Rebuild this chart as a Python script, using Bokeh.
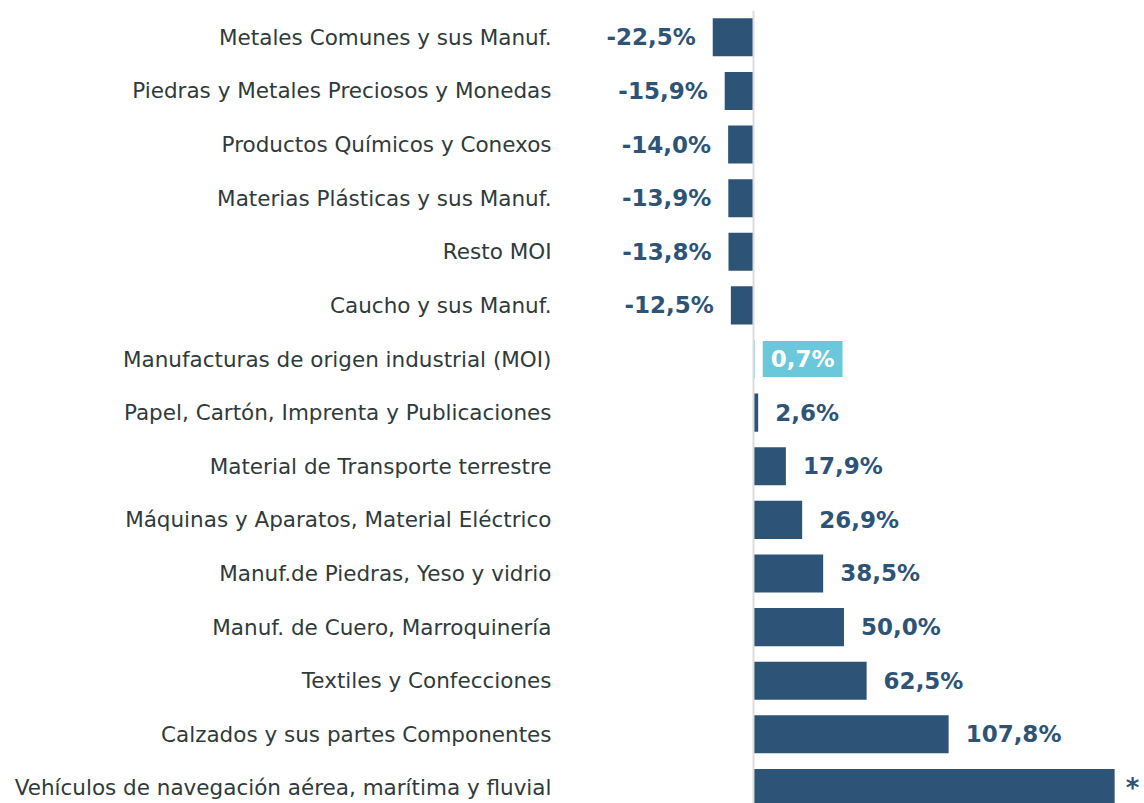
from bokeh.plotting import figure
from bokeh.models import ColumnDataSource, Range1d, FixedTicker, Span
from bokeh.core.properties import value
from bokeh.embed import file_html
from bokeh.resources import INLINE

categories = [
    "Metales Comunes y sus Manuf.",
    "Piedras y Metales Preciosos y Monedas",
    "Productos Químicos y Conexos",
    "Materias Plásticas y sus Manuf.",
    "Resto MOI",
    "Caucho y sus Manuf.",
    "Manufacturas de origen industrial (MOI)",
    "Papel, Cartón, Imprenta y Publicaciones",
    "Material de Transporte terrestre",
    "Máquinas y Aparatos, Material Eléctrico",
    "Manuf.de Piedras, Yeso y vidrio",
    "Manuf. de Cuero, Marroquinería",
    "Textiles y Confecciones",
    "Calzados y sus partes Componentes",
    "Vehículos de navegación aérea, marítima y fluvial",
]
values = [-22.5, -15.9, -14.0, -13.9, -13.8, -12.5, 0.7, 2.6, 17.9, 26.9, 38.5, 50.0, 62.5, 107.8, 199.5]
highlight = "Manufacturas de origen industrial (MOI)"
off_scale = "Vehículos de navegación aérea, marítima y fluvial"

DARK = "#2d5477"
CYAN = "#6bc8da"
TXT = "#2f3b3b"
FONT = "DejaVu Sans"

ypos = list(range(len(categories)))
colors = [CYAN if c == highlight else DARK for c in categories]
labels = ["*" if c == off_scale else f"{v:.1f}".replace(".", ",") + "%" for c, v in zip(categories, values)]

src = ColumnDataSource(dict(y=ypos, v=values, color=colors, label=labels, cat=categories))

p = figure(width=1144, height=803, output_backend="svg", toolbar_location=None,
           x_range=Range1d(-106.6, 216.0), y_range=Range1d(14.29, -0.5),
           min_border_left=560, min_border_right=0, min_border_top=10, min_border_bottom=0,
           outline_line_color=None, background_fill_color="white", border_fill_color="white")
p.grid.visible = False
p.xaxis.visible = False

ax = p.yaxis[0]
ax.ticker = FixedTicker(ticks=ypos)
ax.major_label_overrides = {i: c for i, c in zip(ypos, categories)}
ax.axis_line_color = None
ax.major_tick_line_color = None
ax.minor_tick_line_color = None
ax.major_tick_in = 0
ax.major_tick_out = 0
ax.major_label_standoff = 9
ax.major_label_text_font = FONT
ax.major_label_text_font_size = "21.5px"
ax.major_label_text_color = TXT

p.add_layout(Span(location=0, dimension="height", line_color="#dcdcdc", line_width=2))

p.hbar(y="y", left=0, right="v", height=0.71, color="color", line_color=None, source=src)

neg = ColumnDataSource(dict(y=[y for y, v in zip(ypos, values) if v < 0],
                            v=[v for v in values if v < 0],
                            label=[l for l, v in zip(labels, values) if v < 0]))
pos_idx = [i for i, (v, c) in enumerate(zip(values, categories)) if v >= 0 and c != highlight and c != off_scale]
pos = ColumnDataSource(dict(y=[ypos[i] for i in pos_idx], v=[values[i] for i in pos_idx],
                            label=[labels[i] for i in pos_idx]))
hi_idx = [i for i, c in enumerate(categories) if c == highlight]
hi = ColumnDataSource(dict(y=[ypos[i] for i in hi_idx], v=[values[i] for i in hi_idx],
                           label=[labels[i] for i in hi_idx]))
st_idx = [i for i, c in enumerate(categories) if c == off_scale]
st = ColumnDataSource(dict(y=[ypos[i] for i in st_idx], v=[values[i] for i in st_idx],
                           label=[labels[i] for i in st_idx]))

p.text(x="v", y="y", text="label", source=neg, text_align="right", text_baseline="middle",
       x_offset=-17, text_font=value(FONT), text_font_style="bold", text_font_size="23px",
       text_color=DARK)
p.text(x="v", y="y", text="label", source=pos, text_align="left", text_baseline="middle",
       x_offset=17, text_font=value(FONT), text_font_style="bold", text_font_size="23px",
       text_color=DARK)
p.text(x="v", y="y", text="label", source=hi, text_align="left", text_baseline="middle",
       x_offset=8, text_font=value(FONT), text_font_style="bold", text_font_size="23px",
       text_color="white", background_fill_color=CYAN,
       padding=dict(left=8, right=8, top=5, bottom=5))
p.text(x="v", y="y", text="label", source=st, text_align="left", text_baseline="middle",
       x_offset=11, text_font=value(FONT), text_font_style="bold", text_font_size="26px",
       text_color=DARK)

open("out.html", "w").write(file_html(p, INLINE))
